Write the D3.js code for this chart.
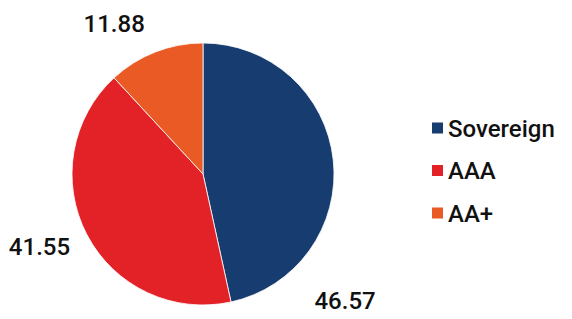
<!DOCTYPE html>
<html>
<head>
<meta charset="utf-8">
<script src="https://cdn.jsdelivr.net/npm/d3@7"></script>
<style>
  body { margin: 0; background: #fff; }
  text { font-family: Roboto, sans-serif; font-weight: 500; fill: #111; }
</style>
</head>
<body>
<svg id="chart" width="572" height="319"></svg>
<script>
const categories = ["Sovereign", "AAA", "AA+"];
const values = [46.57, 41.55, 11.88];
const colors = ["#173c6f", "#e32228", "#ea5a24"];

// where each value label sits: angle (deg, clockwise from top) and distance from centre
const labelAngle = [131.6, 246, 329.5];
const labelDist = [190, 179, 175];

const width = 572, height = 319;
const cx = 203, cy = 174, radius = 131;

const svg = d3.select("#chart");

const pie = d3.pie().sort(null).value((d) => d);
const arcs = pie(values);
const arc = d3.arc().innerRadius(0).outerRadius(radius);

const g = svg.append("g").attr("transform", `translate(${cx},${cy})`);

g.selectAll("path")
  .data(arcs)
  .join("path")
  .attr("d", arc)
  .attr("fill", (d, i) => colors[i])
  .attr("stroke", "#fff")
  .attr("stroke-width", 0.8);

g.selectAll("text.lbl")
  .data(arcs)
  .join("text")
  .attr("class", "lbl")
  .attr("transform", (d, i) => {
    const p = d3.pointRadial((labelAngle[i] * Math.PI) / 180, labelDist[i]);
    return `translate(${p[0]},${p[1]})`;
  })
  .attr("text-anchor", "middle")
  .attr("dy", "0.36em")
  .style("font-size", "24px")
  .text((d) => d.value.toFixed(2));

// legend
const legend = svg.append("g").attr("transform", "translate(432,0)");
const legendY = d3.scalePoint().domain(categories).range([128, 213]);

const item = legend.selectAll("g")
  .data(categories)
  .join("g")
  .attr("transform", (d) => `translate(0,${legendY(d)})`);

item.append("rect")
  .attr("x", 0)
  .attr("y", -5.5)
  .attr("width", 11)
  .attr("height", 11)
  .attr("fill", (d, i) => colors[i]);

item.append("text")
  .attr("x", 16)
  .attr("dy", "0.36em")
  .style("font-size", "24px")
  .text((d) => d);
</script>
</body>
</html>
